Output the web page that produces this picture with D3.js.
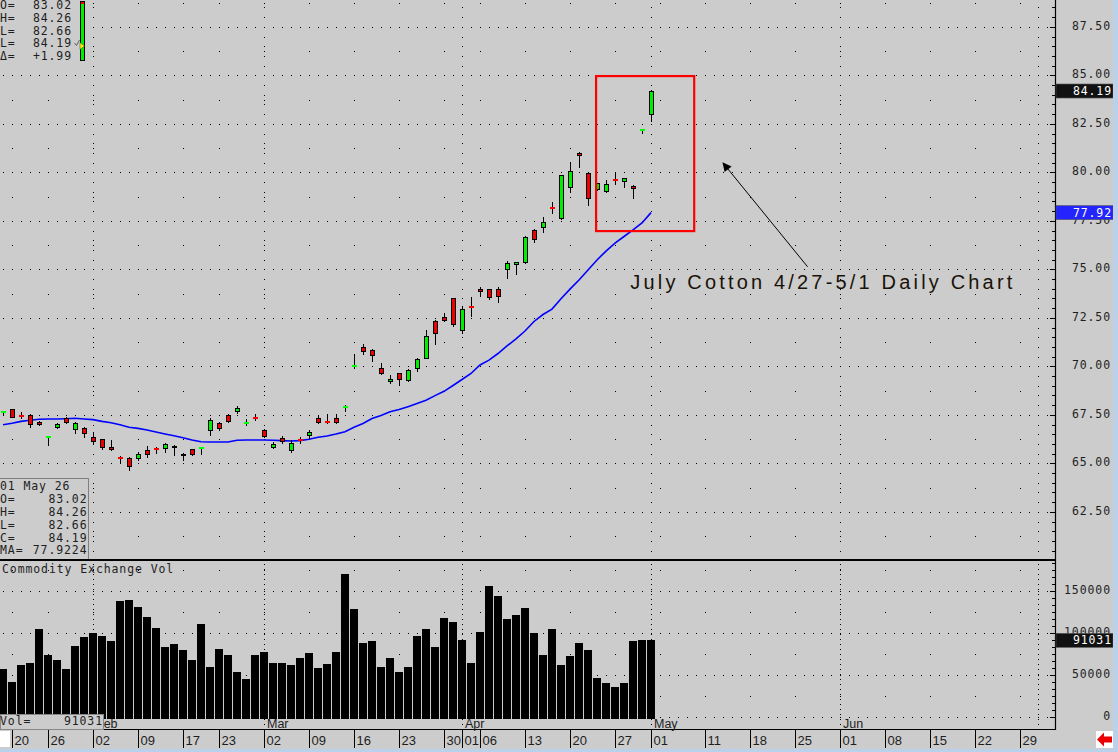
<!DOCTYPE html>
<html>
<head>
<meta charset="utf-8">
<script src="https://cdn.jsdelivr.net/npm/d3@7"></script>
<style>
  html, body { margin: 0; padding: 0; background: #cccccc; overflow: hidden; }
  svg { display: block; }
</style>
</head>
<body>
<div id="chart"></div>
<script>
// July cotton, daily sessions 16 Jan - 1 May 2026
const sessionStart = "2026-01-16";
const sessionEnd = "2026-07-02";
const holidays = ["2026-01-19", "2026-02-16", "2026-04-03"];

const opens = [67.59, 67.80, 67.46, 67.49, 67.13, 66.31, 66.86, 67.32, 66.75, 66.82,
  66.34, 66.24, 65.83, 65.31, 65.26, 65.26, 65.67, 65.77, 65.81, 65.86,
  65.41, 65.72, 65.75, 66.72, 67.08, 67.49, 67.66, 67.05, 67.35, 66.72,
  65.86, 66.29, 65.69, 66.23, 66.43, 67.34, 67.17, 67.34, 67.89, 70.01,
  70.98, 70.82, 69.90, 69.21, 69.64, 69.28, 69.90, 70.42, 72.32, 72.53,
  73.51, 71.86, 73.08, 73.97, 73.97, 73.97, 75.00, 75.26, 75.36, 77.01,
  77.17, 78.16, 77.61, 79.23, 80.98, 79.95, 79.10, 79.00, 79.60, 79.57,
  79.30, 82.18, 83.02];
const highs = [67.72, 67.82, 67.67, 67.54, 67.18, 66.41, 67.07, 67.37, 67.13, 66.86,
  66.60, 66.26, 66.20, 65.39, 65.30, 65.57, 65.89, 65.86, 66.06, 65.94,
  65.55, 65.74, 65.77, 67.32, 67.14, 67.54, 67.97, 67.28, 67.54, 66.77,
  66.11, 66.41, 66.20, 66.38, 66.74, 67.44, 67.54, 67.54, 68.01, 70.64,
  71.13, 70.88, 70.15, 69.54, 69.64, 69.85, 70.41, 71.86, 72.37, 72.73,
  73.51, 73.09, 73.57, 74.09, 73.97, 74.08, 75.43, 75.36, 76.70, 77.09,
  77.68, 78.49, 79.85, 80.53, 81.05, 80.02, 79.43, 79.60, 80.02, 79.71,
  79.36, 82.24, 84.26];
const lows = [67.50, 67.38, 67.32, 66.89, 66.96, 65.94, 66.82, 67.08, 66.58, 66.37,
  66.00, 65.76, 65.69, 65.05, 64.66, 65.17, 65.30, 65.52, 65.60, 65.43,
  65.17, 65.42, 65.48, 66.46, 66.72, 67.15, 67.58, 66.97, 67.23, 66.38,
  65.77, 66.03, 65.60, 66.04, 66.29, 67.06, 67.06, 67.06, 67.72, 69.90,
  70.64, 70.29, 69.59, 69.12, 69.06, 69.23, 69.77, 70.42, 71.17, 72.32,
  72.10, 71.70, 72.58, 73.64, 73.45, 73.34, 74.57, 74.78, 75.31, 76.42,
  76.94, 77.92, 77.61, 79.00, 80.29, 78.32, 79.10, 79.00, 79.41, 79.24,
  78.70, 82.05, 82.66];
const closes = [67.66, 67.40, 67.44, 67.01, 67.01, 66.33, 67.03, 67.11, 67.06, 66.55,
  66.12, 65.81, 65.72, 65.29, 64.83, 65.46, 65.48, 65.75, 66.00, 65.86,
  65.41, 65.44, 65.77, 67.23, 66.84, 67.18, 67.83, 67.07, 67.33, 66.43,
  66.00, 66.12, 66.07, 66.21, 66.61, 67.13, 67.15, 67.13, 67.91, 70.03,
  70.76, 70.55, 69.64, 69.33, 69.33, 69.80, 70.37, 71.55, 71.70, 72.40,
  72.17, 72.94, 73.06, 73.87, 73.56, 73.61, 75.31, 75.36, 76.65, 76.55,
  77.44, 78.14, 79.85, 80.05, 80.86, 78.66, 79.43, 79.38, 79.58, 79.71,
  79.21, 82.20, 84.19];
const movingAvg = [66.99, 67.06, 67.16, 67.22, 67.27, 67.28, 67.28, 67.30, 67.32, 67.28,
  67.25, 67.16, 67.09, 66.99, 66.86, 66.80, 66.72, 66.61, 66.51, 66.42,
  66.32, 66.20, 66.11, 66.10, 66.10, 66.10, 66.19, 66.20, 66.20, 66.20,
  66.19, 66.17, 66.15, 66.17, 66.24, 66.34, 66.41, 66.51, 66.63, 66.86,
  67.05, 67.31, 67.47, 67.66, 67.77, 67.92, 68.08, 68.25, 68.49, 68.71,
  69.01, 69.32, 69.63, 70.07, 70.32, 70.66, 71.05, 71.41, 71.82, 72.31,
  72.67, 72.95, 73.48, 73.98, 74.45, 74.96, 75.48, 75.94, 76.35, 76.69,
  77.03, 77.39, 77.9224];
const volumes = [57600, 41400, 61500, 63800, 104000, 73300, 67400, 56700, 83900, 94600,
  99300, 95700, 89800, 138300, 139500, 131200, 118200, 105200, 82700, 86300,
  79200, 67400, 109900, 59100, 80400, 73300, 53200, 44900, 73300, 76800,
  63800, 63800, 61500, 69700, 75700, 57900, 62600, 76800, 170200, 127700,
  87500, 89800, 59100, 69700, 53200, 59100, 95700, 104000, 82700, 117000,
  112300, 91000, 63800, 100500, 156000, 144200, 115800, 120600, 130000, 99300,
  73300, 104000, 61500, 72100, 87500, 79200, 46100, 40200, 35500, 40200,
  89800, 91000, 91031];

const priceTicks = [62.5, 65, 67.5, 70, 72.5, 75, 77.5, 80, 82.5, 85, 87.5];
const volumeTicks = [0, 50000, 100000, 150000];
const tickDates = ["2026-01-20", "2026-01-26", "2026-02-02", "2026-02-09", "2026-02-17",
  "2026-02-23", "2026-03-02", "2026-03-09", "2026-03-16", "2026-03-23", "2026-03-30",
  "2026-04-01", "2026-04-06", "2026-04-13", "2026-04-20", "2026-04-27", "2026-05-01",
  "2026-05-11", "2026-05-18", "2026-05-25", "2026-06-01", "2026-06-08", "2026-06-15",
  "2026-06-22", "2026-06-29"];
const monthDates = ["2026-02-02", "2026-03-02", "2026-04-01", "2026-05-01", "2026-06-01", "2026-07-01"];
const monthLabels = ["Feb", "Mar", "Apr", "May", "Jun"];

// annotation, in (session index, price) units
const noteText = "July Cotton 4/27-5/1 Daily Chart";
const noteAt = [69.7, 73.96];
const noteBox = [[65.9, 84.96], [76.8, 76.97]];
const noteArrow = [[89.4, 75.13], [80.0, 80.48]];

// ---------------------------------------------------------------
const W = 1118, H = 752;
const plotRight = 1055, priceBottom = 559, volTop = 561, axisY = 729;
const ink = "#1e1e1e";
const mono = "'DejaVu Sans Mono', monospace";
const sans = "'Liberation Sans', Arial, sans-serif";
const monoSize = "11.5px", monoGap = "0.9px";

const parse = d3.timeParse("%Y-%m-%d");
const key = d3.timeFormat("%Y-%m-%d");
const sessions = d3.timeDay.range(parse(sessionStart), d3.timeDay.offset(parse(sessionEnd), 1))
  .filter(d => d.getDay() > 0 && d.getDay() < 6 && !holidays.includes(key(d)));
const idx = new Map(sessions.map((d, i) => [key(d), i]));
const weekIdx = sessions.map((d, i) => i)
  .filter(i => i > 0 && +d3.timeWeek.floor(sessions[i]) !== +d3.timeWeek.floor(sessions[i - 1]));
const monthIdx = monthDates.map(d => idx.get(d));
const last = closes.length - 1;

const x = d3.scaleLinear().domain([0, sessions.length - 1]).range([3, 3 + 9 * (sessions.length - 1)]);
const yP = d3.scaleLinear().domain([80, 85]).range([172.3, 75.3]);
const yV = d3.scaleLinear().domain([0, 150000]).range([717, 590.7]);

const svg = d3.select("#chart").append("svg")
  .attr("width", W).attr("height", H)
  .style("font-family", mono);

svg.append("rect").attr("width", W).attr("height", H).attr("fill", "#cccccc");

// dotted grid
const dots = [];
const allIdx = d3.range(sessions.length);
priceTicks.forEach(p => allIdx.forEach(i => dots.push([x(i), yP(p)])));
d3.range(61.25, 89, 2.5).forEach(p => weekIdx.forEach(i => dots.push([x(i), yP(p)])));
volumeTicks.forEach(v => allIdx.forEach(i => dots.push([x(i), yV(v)])));
d3.range(25000, 190000, 50000).forEach(v => weekIdx.forEach(i => dots.push([x(i), yV(v)])));
monthIdx.forEach(i => {
  d3.range(60.5, 89, 0.5).forEach(p => dots.push([x(i), yP(p)]));
  d3.range(volTop + 3, axisY, 5).forEach(y => dots.push([x(i), y]));
});
svg.append("g").attr("shape-rendering", "crispEdges")
  .selectAll("rect").data(dots.filter(d => d[1] >= 0 && d[0] < plotRight)).join("rect")
  .attr("x", d => Math.round(d[0])).attr("y", d => Math.round(d[1]))
  .attr("width", 1).attr("height", 1).attr("fill", "#000");

// moving average
svg.append("path")
  .datum(movingAvg)
  .attr("fill", "none").attr("stroke", "#0000ff").attr("stroke-width", 1.6)
  .attr("d", d3.line().x((d, i) => x(i)).y(d => yP(d)));

// candles
const candles = opens.map((o, i) => ({ i, o, h: highs[i], l: lows[i], c: closes[i] }));
const cg = svg.append("g").attr("shape-rendering", "crispEdges");
cg.selectAll("line").data(candles).join("line")
  .attr("x1", d => x(d.i) + 0.5).attr("x2", d => x(d.i) + 0.5)
  .attr("y1", d => Math.round(yP(d.h))).attr("y2", d => Math.round(yP(d.l)) + 1)
  .attr("stroke", "#000");

const bodyColor = d => d.c > d.o ? "#00ee00" : d.c < d.o ? "#ee0000" : "#000";
const flatColor = d => d.c > d.o ? "#00ff00" : d.c < d.o ? "#ff0000" : "#000";
const isFlat = d => Math.abs(yP(d.o) - yP(d.c)) < 1.6;

cg.selectAll("rect.body").data(candles.filter(d => !isFlat(d))).join("rect")
  .attr("class", "body")
  .attr("x", d => x(d.i) - 1.5).attr("width", 4)
  .attr("y", d => Math.round(yP(Math.max(d.o, d.c))) + 0.5)
  .attr("height", d => Math.max(1, Math.round(Math.abs(yP(d.o) - yP(d.c)))))
  .attr("fill", bodyColor).attr("stroke", "#000");

cg.selectAll("rect.flat").data(candles.filter(isFlat)).join("rect")
  .attr("class", "flat")
  .attr("x", d => x(d.i) - 2).attr("width", 5)
  .attr("y", d => Math.round(yP(d.c)) - 1).attr("height", 2)
  .attr("fill", flatColor);

// volume
svg.append("g").attr("shape-rendering", "crispEdges")
  .selectAll("rect").data(volumes).join("rect")
  .attr("x", (d, i) => x(i) - 4).attr("width", 8)
  .attr("y", d => Math.round(yV(d)))
  .attr("height", d => Math.round(yV(0)) + 2 - Math.round(yV(d)))
  .attr("fill", "#000");

// frame lines
svg.append("rect").attr("x", 0).attr("y", priceBottom).attr("width", plotRight).attr("height", 2).attr("fill", "#000");
svg.append("line").attr("x1", 0).attr("x2", plotRight + 1).attr("y1", axisY + 0.5).attr("y2", axisY + 0.5)
  .attr("stroke", "#000");
svg.append("line").attr("x1", plotRight + 0.5).attr("x2", plotRight + 0.5).attr("y1", 0).attr("y2", axisY + 1)
  .attr("stroke", "#000").attr("stroke-width", 1.2);

// right axes
function rightAxis(scale, major, minor, fmt) {
  const g = svg.append("g").attr("transform", `translate(${plotRight},0)`);
  const mi = g.append("g").call(d3.axisRight(scale).tickValues(minor).tickSizeInner(-3).tickSizeOuter(0).tickFormat(""));
  const ma = g.append("g").call(d3.axisRight(scale).tickValues(major).tickSizeInner(-5).tickSizeOuter(0).tickFormat(fmt));
  [mi, ma].forEach(a => {
    a.select(".domain").remove();
    a.selectAll("line").attr("stroke", "#000").attr("shape-rendering", "crispEdges");
  });
  ma.selectAll("text")
    .attr("x", 56).attr("dy", "0.2em").attr("text-anchor", "end")
    .attr("fill", ink).style("font-family", mono).style("font-size", monoSize).style("letter-spacing", monoGap);
}
rightAxis(yP, priceTicks, d3.range(60.5, 89, 0.5), d3.format(".2f"));
rightAxis(yV, volumeTicks, d3.range(0, 185000, 50000 / 6), d3.format("d"));

function tag(yPos, label, color) {
  svg.append("rect").attr("x", plotRight + 1).attr("y", yPos - 7).attr("width", 57).attr("height", 14)
    .attr("fill", color).attr("stroke", "#555").attr("stroke-width", 0.6);
  svg.append("text").attr("x", 1112).attr("y", yPos + 4).attr("text-anchor", "end")
    .attr("fill", "#fff").style("font-size", monoSize).style("letter-spacing", monoGap).text(label);
}
tag(yP(closes[last]), d3.format(".2f")(closes[last]), "#111");
tag(yP(movingAvg[last]), d3.format(".2f")(movingAvg[last]), "#2424ff");
tag(yV(volumes[last]), d3.format("d")(volumes[last]), "#111");

// bottom date axis
const tickIdx = tickDates.map(d => idx.get(d));
svg.append("g").selectAll("line").data(tickIdx).join("line")
  .attr("x1", i => x(i) + 0.5).attr("x2", i => x(i) + 0.5).attr("y1", axisY).attr("y2", 748)
  .attr("stroke", "#000").attr("shape-rendering", "crispEdges");
svg.append("g").selectAll("text").data(tickDates).join("text")
  .attr("x", d => x(idx.get(d)) + 2.5).attr("y", 744.5)
  .attr("fill", ink).style("font-family", sans).style("font-size", "13px")
  .text(d => d3.timeFormat("%d")(parse(d)));
svg.append("g").selectAll("text").data(monthLabels).join("text")
  .attr("x", (d, k) => x(monthIdx[k]) + 3).attr("y", 727.5)
  .attr("fill", ink).style("font-family", sans).style("font-size", "12.5px")
  .text(d => d);

// legend boxes
svg.append("rect").attr("x", 0.5).attr("y", 714.5).attr("width", 103).attr("height", 15)
  .attr("fill", "#cccccc").attr("stroke", "#888");
svg.append("text").attr("x", 0).attr("y", 725).attr("fill", ink)
  .style("font-size", monoSize).style("letter-spacing", monoGap).text("Vol=");
svg.append("text").attr("x", 103).attr("y", 725).attr("text-anchor", "end").attr("fill", ink)
  .style("font-size", monoSize).style("letter-spacing", monoGap).text(d3.format("d")(volumes[last]));
svg.append("rect").attr("x", 0).attr("y", 731).attr("width", 10).attr("height", 16)
  .attr("fill", "#fff");

svg.append("text").attr("x", 2).attr("y", 573).attr("fill", ink)
  .style("font-size", monoSize).style("letter-spacing", monoGap).text("Commodity Exchange Vol");

const f2 = d3.format(".2f");
const infoRows = [
  ["O=", f2(opens[last])], ["H=", f2(highs[last])], ["L=", f2(lows[last])],
  ["C=", f2(closes[last])], ["MA=", d3.format(".4f")(movingAvg[last])]
];
svg.append("rect").attr("x", 0).attr("y", 478).attr("width", 88).attr("height", 81).attr("fill", "#cccccc");
const info = svg.append("g").attr("fill", ink).style("font-size", monoSize).style("letter-spacing", monoGap);
info.append("text").attr("x", 0).attr("y", 490).text(d3.timeFormat("%d %b %y")(sessions[last]));
infoRows.forEach((r, k) => {
  info.append("text").attr("x", 0).attr("y", 502.8 + 12.9 * k).text(r[0]);
  info.append("text").attr("x", 87.5).attr("y", 502.8 + 12.9 * k).attr("text-anchor", "end").text(r[1]);
});
svg.append("line").attr("x1", 88.5).attr("x2", 88.5).attr("y1", 478).attr("y2", 559).attr("stroke", "#808080");
svg.append("line").attr("x1", 0).attr("x2", 88.5).attr("y1", 478.5).attr("y2", 478.5).attr("stroke", "#808080");

// top-left quote panel
svg.append("rect").attr("x", 0).attr("y", 0).attr("width", 88).attr("height", 64).attr("fill", "#cccccc");
const quoteRows = [
  ["O=", f2(opens[last])], ["H=", f2(highs[last])], ["L=", f2(lows[last])],
  ["L=", f2(closes[last])], ["\u0394=", d3.format("+.2f")(closes[last] - closes[last - 1])]
];
const quote = svg.append("g").attr("fill", ink).style("font-size", monoSize).style("letter-spacing", monoGap);
quoteRows.forEach((r, k) => {
  quote.append("text").attr("x", 0).attr("y", 9 + 12.75 * k).text(r[0]);
  quote.append("text").attr("x", 72).attr("y", 9 + 12.75 * k).attr("text-anchor", "end").text(r[1]);
});
svg.append("rect").attr("x", 80.5).attr("y", 1.5).attr("width", 4).attr("height", 59)
  .attr("fill", "#00ee00").attr("stroke", "#000").attr("shape-rendering", "crispEdges");
svg.append("rect").attr("x", 81).attr("y", 2).attr("width", 3).attr("height", 2).attr("fill", "#ff0000");
svg.append("path").attr("d", "M80,42.5 L84.5,46 L80,49.5 Z").attr("fill", "#ffee00").attr("stroke", "#444").attr("stroke-width", 0.5);
svg.append("path").attr("d", "M74.5,43 L76.5,45.5 L79.5,40").attr("fill", "none").attr("stroke", "#555").attr("stroke-width", 0.9);

// annotation
svg.append("rect")
  .attr("x", x(noteBox[0][0])).attr("y", yP(noteBox[0][1]))
  .attr("width", x(noteBox[1][0]) - x(noteBox[0][0])).attr("height", yP(noteBox[1][1]) - yP(noteBox[0][1]))
  .attr("fill", "none").attr("stroke", "#ff0000").attr("stroke-width", 2.2);
svg.append("defs").append("marker")
  .attr("id", "head").attr("viewBox", "0 0 10 10").attr("refX", 9).attr("refY", 5)
  .attr("markerWidth", 13).attr("markerHeight", 9).attr("markerUnits", "userSpaceOnUse").attr("orient", "auto")
  .append("path").attr("d", "M0,0 L10,5 L0,10 Z").attr("fill", "#000");
svg.append("line")
  .attr("x1", x(noteArrow[0][0])).attr("y1", yP(noteArrow[0][1]))
  .attr("x2", x(noteArrow[1][0])).attr("y2", yP(noteArrow[1][1]))
  .attr("stroke", "#000").attr("stroke-width", 1).attr("marker-end", "url(#head)");
svg.append("text")
  .attr("x", x(noteAt[0])).attr("y", yP(noteAt[1]))
  .attr("textLength", 382).attr("lengthAdjust", "spacing")
  .attr("fill", "#1a1208").style("font-family", sans).style("font-size", "20px")
  .text(noteText);

// window edge and scroll arrow
svg.append("rect").attr("x", 1113).attr("y", 0).attr("width", 5).attr("height", H).attr("fill", "#b9d1ea");
svg.append("rect").attr("x", 0).attr("y", 749).attr("width", W).attr("height", 3).attr("fill", "#b9d1ea");
svg.append("rect").attr("x", 1096).attr("y", 731).attr("width", 17).attr("height", 17).attr("fill", "#fff");
svg.append("path").attr("d", "M1097,739.5 L1104,732.5 L1104,736.5 L1112,736.5 L1112,742.5 L1104,742.5 L1104,746.5 Z")
  .attr("fill", "#ee0000");
</script>
</body>
</html>
